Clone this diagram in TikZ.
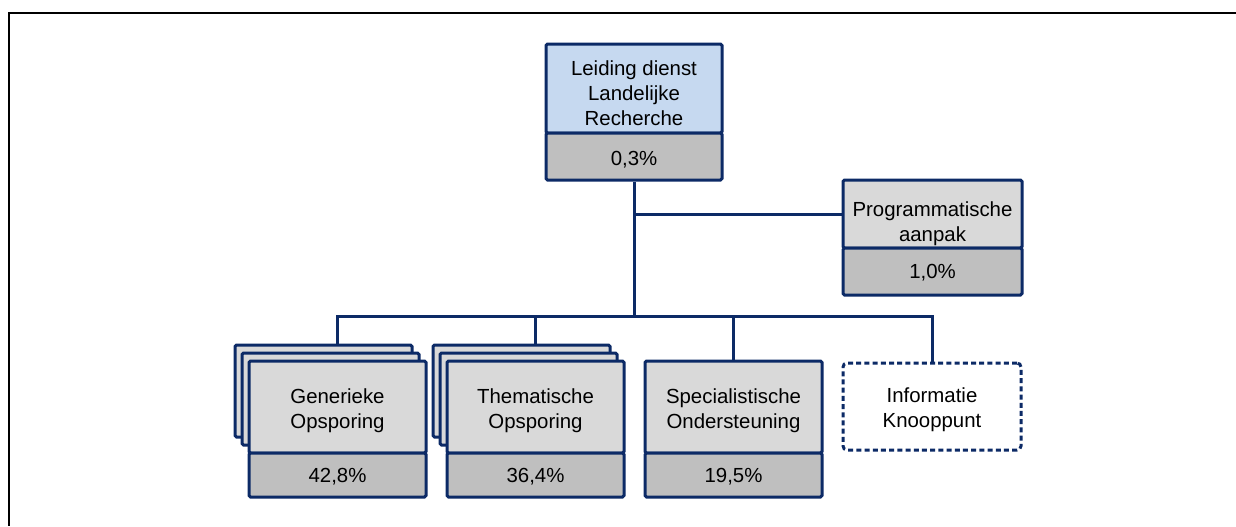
\documentclass[tikz,border=0pt]{standalone}
\usepackage{fontspec}
\setmainfont{Liberation Sans}
\definecolor{navy}{HTML}{0C2A66}
\definecolor{lblue}{HTML}{C6D9F0}
\definecolor{lgray}{HTML}{D9D9D9}
\definecolor{mgray}{HTML}{BFBFBF}
\begin{document}
\begin{tikzpicture}[x=0.5pt,y=-0.5pt,
  box/.style={draw=navy, line width=1.5pt, rounded corners=0.8pt, inner sep=0pt},
  headbox/.style={box, fill=lgray},
  pctbox/.style={box, fill=mgray},
  wide/.style={minimum width=88pt},
  dashbox/.style={box, fill=white, dash pattern=on 2.5pt off 1.6pt, rounded corners=2pt},
  txt/.style={align=center, inner sep=0pt, font=\fontsize{10.2}{12.6}\selectfont},
  conn/.style={draw=navy, line width=1.5pt}]
\useasboundingbox (0,0) rectangle (1236,526);
\draw[line width=1pt] (1236,13) -- (9,13) -- (9,526);
\coordinate (bus) at (0,316);
% top
\node[box, fill=lblue, wide, minimum height=44.5pt] (ldr) at (634,88.5) {};
\node[pctbox, wide, minimum height=23.5pt] (ldr-pct) at (634,156.5) {};
% programmatische
\node[headbox, minimum width=89.5pt, minimum height=34pt] (prog) at (932.5,214) {};
\node[pctbox, minimum width=89.5pt, minimum height=23.5pt] (prog-pct) at (932.5,271.5) {};
% stacked back boxes
\node[headbox, minimum width=88.5pt, minimum height=46pt] (gen-b2) at (323.5,391) {};
\node[headbox, minimum width=88.5pt, minimum height=46pt] (gen-b1) at (330.5,399) {};
\node[headbox, minimum width=88.5pt, minimum height=46pt] (them-b2) at (521.5,391) {};
\node[headbox, minimum width=88.5pt, minimum height=46pt] (them-b1) at (528.5,399) {};
% front boxes
\node[headbox, minimum width=88.5pt, minimum height=46pt] (gen) at (337.5,407) {};
\node[pctbox, minimum width=88.5pt, minimum height=22pt] (gen-pct) at (337.5,475) {};
\node[headbox, minimum width=88.5pt, minimum height=46pt] (them) at (535.5,407) {};
\node[pctbox, minimum width=88.5pt, minimum height=22pt] (them-pct) at (535.5,475) {};
\node[headbox, minimum width=88.5pt, minimum height=46pt] (spec) at (733.5,407) {};
\node[pctbox, minimum width=88.5pt, minimum height=22pt] (spec-pct) at (733.5,475) {};
\node[dashbox, minimum width=89pt, minimum height=43.5pt] (info) at (932,406.5) {};
% texts
\node[txt] (ldr-t) at ([yshift=-2.3pt]ldr.center) {Leiding dienst\\Landelijke\\Recherche};
\node[txt] (ldr-pct-t) at ([yshift=-1.4pt]ldr-pct.center) {0,3\%};
\node[txt] (prog-t) at ([yshift=-4.8pt]prog.center) {Programmatische\\aanpak};
\node[txt] (prog-pct-t) at ([yshift=-0.8pt]prog-pct.center) {1,0\%};
\node[txt] (gen-t) at ([yshift=-1.8pt]gen.center) {Generieke\\Opsporing};
\node[txt] (gen-pct-t) at ([yshift=-1pt]gen-pct.center) {42,8\%};
\node[txt] (them-t) at ([yshift=-1.8pt]them.center) {Thematische\\Opsporing};
\node[txt] (them-pct-t) at ([yshift=-1pt]them-pct.center) {36,4\%};
\node[txt] (spec-t) at ([yshift=-1.8pt]spec.center) {Specialistische\\Ondersteuning};
\node[txt] (spec-pct-t) at ([yshift=-1pt]spec-pct.center) {19,5\%};
\node[txt] (info-t) at ([yshift=-1.6pt]info.center) {Informatie\\Knooppunt};
% connectors
\draw[conn] (ldr-pct.south) -- (ldr-pct.south |- bus);
\draw[conn] (ldr-pct.south |- prog.west) -- (prog.west);
\draw[conn] (gen.north |- gen-b2.north) -- (gen.north |- bus) -- (info.north |- bus) -- (info.north);
\draw[conn] (them.north |- them-b2.north) -- (them.north |- bus);
\draw[conn] (spec.north) -- (spec.north |- bus);
\end{tikzpicture}
\end{document}
